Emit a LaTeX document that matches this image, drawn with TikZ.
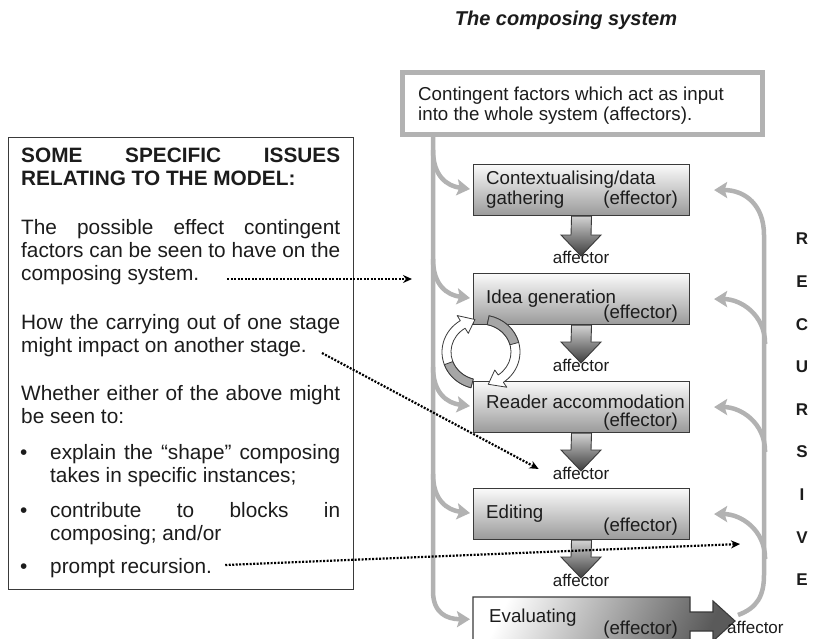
\documentclass[tikz,border=0pt]{standalone}
\usepackage{fontspec}
\setmainfont{Liberation Sans}
\usetikzlibrary{arrows.meta,calc}

\definecolor{ink}{HTML}{1C1C1C}
\definecolor{frame}{HTML}{3A3A3A}
\definecolor{feedgray}{HTML}{B2B2B2}
\definecolor{boxtop}{HTML}{FAFAFA}
\definecolor{boxbot}{HTML}{9A9A9A}
\definecolor{arrtop}{HTML}{D2D2D2}
\definecolor{arrbot}{HTML}{3C3C3C}
\definecolor{evalbot}{HTML}{5A5A5A}
\definecolor{bandgray}{HTML}{A6A6A6}

\tikzset{
  stagebox/.style={draw=frame, line width=1.1pt, top color=boxtop, bottom color=boxbot,
    minimum width=216pt, minimum height=51pt, inner sep=0pt, anchor=north west},
  flowarrow/.style={draw=frame, line width=0.9pt, top color=arrtop, bottom color=arrbot},
  feedline/.style={draw=feedgray, line width=4.5pt, -{Stealth[length=13pt,width=16pt,inset=2.5pt]}},
  hint/.style={draw=black, line width=2.2pt, dash pattern=on 2pt off 1.5pt, -{Stealth[length=9pt,width=8pt]}},
  issue/.style={anchor=base west, inner sep=0pt, text=ink, font=\fontsize{20.8pt}{23pt}\selectfont},
  stagetext/.style={anchor=base west, inner sep=0pt, text=ink, font=\fontsize{18.7pt}{20pt}\selectfont},
  efftext/.style={stagetext, anchor=base east},
  afftext/.style={anchor=base, inner sep=0pt, text=ink, font=\fontsize{17pt}{19pt}\selectfont},
  recletter/.style={inner sep=0pt, text=ink, font=\fontsize{17pt}{19pt}\selectfont\bfseries},
  band/.style={fill=white, draw=frame, line width=0.8pt, line join=round},
  bandshade/.style={fill=bandgray, draw=frame, line width=0.8pt, line join=round},
}

\begin{document}
\begin{tikzpicture}[x=1pt, y=-1pt]
\useasboundingbox (0,0) rectangle (814,638);
\clip (0,0) rectangle (814,638);
\fill[white] (0,0) rectangle (814,638);

% ---------- title ----------
\node[text=ink, font=\fontsize{20pt}{24pt}\selectfont\bfseries\itshape] (title) at (566,20) {The composing system};

% ---------- issues panel ----------
\node[draw=frame, line width=1.2pt, minimum width=345pt, minimum height=452pt,
      inner sep=0pt, anchor=north west] (issues) at (8,137) {};

\node[issue] (h1) at (21,162) {\makebox[319pt][s]{\bfseries SOME SPECIFIC ISSUES}};
\node[issue] (h2) at (21,185) {\bfseries RELATING TO THE MODEL:};

\node[issue] (p1a) at (21,234) {\makebox[319pt][s]{The possible effect contingent}};
\node[issue] (p1b) at (21,257) {\makebox[319pt][s]{factors can be seen to have on the}};
\node[issue] (p1c) at (21,280) {composing system.};

\node[issue] (p2a) at (21,329) {\makebox[319pt][s]{How the carrying out of one stage}};
\node[issue] (p2b) at (21,352) {might impact on another stage.};

\node[issue] (p3a) at (21,400) {\makebox[319pt][s]{Whether either of the above might}};
\node[issue] (p3b) at (21,423) {be seen to:};

\node[issue] (d1) at (20,459) {\textbullet};
\node[issue] (b1a) at (50,459) {\makebox[290pt][s]{explain the “shape” composing}};
\node[issue] (b1b) at (50,482) {takes in specific instances;};
\node[issue] (d2) at (20,517) {\textbullet};
\node[issue] (b2a) at (50,517) {\makebox[290pt][s]{contribute to blocks in}};
\node[issue] (b2b) at (50,540) {composing; and/or};
\node[issue] (d3) at (20,573) {\textbullet};
\node[issue] (b3) at (50,573) {prompt recursion.};

% ---------- input box ----------
\node[draw=feedgray, line width=5pt, minimum width=360pt, minimum height=62pt, inner sep=0pt]
  (input) at (582.5,103.5) {};
\node[stagetext] (inputa) at (418,100) {Contingent factors which act as input};
\node[stagetext] (inputb) at (418,120) {into the whole system (affectors).};

% ---------- stage boxes ----------
\node[stagebox] (s1) at (473,164) {};
\node[stagebox] (s2) at (473,273) {};
\node[stagebox] (s3) at (473,381) {};
\node[stagebox] (s4) at (473,488) {};

% evaluating box merged with its outgoing arrow
\path[draw=frame, line width=1.1pt, top color=white, bottom color=evalbot, shading angle=65]
  (473,597) -- (690,597) -- (690,612) -- (713,612) -- (713,601) -- (735,621)
  -- (713,641) -- (713,631) -- (690,631) -- (690,650) -- (473,650) -- cycle;
\node[inner sep=0pt, minimum width=217pt, minimum height=48pt, anchor=north west] (s5) at (473,597) {};

% ---------- downward block arrows ----------
\coordinate (t1) at (581,256);
\coordinate (t2) at (581,363);
\coordinate (t3) at (581,471);
\coordinate (t4) at (581,578);
\foreach \a/\t in {s1/t1, s2/t2, s3/t3, s4/t4}{
  \path[flowarrow] ($(\a.south)+(-10,0)$) -- ($(\t)+(-10,-21)$) -- ($(\t)+(-20,-21)$) -- (\t)
    -- ($(\t)+(20,-21)$) -- ($(\t)+(10,-21)$) -- ($(\a.south)+(10,0)$) -- cycle;
}

% ---------- stage texts ----------
\node[stagetext] (s1a) at (486,184) {Contextualising/data};
\node[stagetext] (s1b) at (486,204) {gathering};
\node[efftext]   (s1c) at (678,204) {(effector)};
\node[stagetext] (s2a) at (486,303) {Idea generation};
\node[efftext]   (s2c) at (678,318) {(effector)};
\node[stagetext] (s3a) at (486,408) {Reader accommodation};
\node[efftext]   (s3c) at (678,426) {(effector)};
\node[stagetext] (s4a) at (486,518) {Editing};
\node[efftext]   (s4c) at (678,531) {(effector)};
\node[stagetext] (s5a) at (489,622) {Evaluating};
\node[efftext]   (s5c) at (678,634) {(effector)};

\node[afftext] (a1) at (581,263) {affector};
\node[afftext] (a2) at (581,371) {affector};
\node[afftext] (a3) at (581,479) {affector};
\node[afftext] (a4) at (581,586) {affector};
\node[afftext, anchor=base west] (a5) at (727,633) {affector};

% ---------- inputs feeding each stage ----------
\coordinate (spine) at (433,136);
\foreach \s in {s1,s2,s3,s4}{
  \draw[feedline] ($(\s.west)+(-40,-40)$) .. controls ($(\s.west)+(-40,-14)$) and ($(\s.west)+(-26,-4)$) .. ($(\s.west)+(-3,-1)$);
}
\draw[feedline] (spine) -- ($(s5.west)+(-40,-30)$) .. controls ($(s5.west)+(-40,-8)$) and ($(s5.west)+(-26,-2)$) .. ($(s5.west)+(-3,-2)$);

% ---------- recursion paths ----------
\coordinate (rstart) at (738,615);
\draw[feedline] (rstart) .. controls (757,608) and (764,596) .. (764,575) -- (764,235)
  .. controls (764,205) and (745,190) .. ($(s1.east)+(24,0)$);
\foreach \s in {s2,s3,s4}{
  \draw[feedline] ($(\s.east)+(75,45)$) .. controls ($(\s.east)+(75,15)$) and ($(\s.east)+(50,0)$) .. ($(\s.east)+(24,0)$);
}

\foreach \l [count=\i] in {R,E,C,U,R,S,I,V,E}{
  \node[recletter] (rec\i) at (802,{239+42.6*(\i-1)}) {\l};
}

% ---------- cycle icon ----------
\begin{scope}[shift={(481,352)}]
  \path[band] (255:39pt and 37pt) arc[start angle=255, end angle=122, x radius=39pt, y radius=37pt]
    -- (122:45pt and 43pt) -- (100:35pt and 33pt) -- (122:24pt and 22pt) -- (122:30pt and 28pt)
    arc[start angle=122, end angle=255, x radius=30pt, y radius=28pt] -- cycle;
  \path[bandshade] (255:39pt and 37pt) arc[start angle=255, end angle=200, x radius=39pt, y radius=37pt]
    -- (200:30pt and 28pt) arc[start angle=200, end angle=255, x radius=30pt, y radius=28pt] -- cycle;
  \path[band] (78:39pt and 37pt) arc[start angle=78, end angle=-55, x radius=39pt, y radius=37pt]
    -- (-55:45pt and 43pt) -- (-78:35pt and 33pt) -- (-55:24pt and 22pt) -- (-55:30pt and 28pt)
    arc[start angle=-55, end angle=78, x radius=30pt, y radius=28pt] -- cycle;
  \path[bandshade] (78:39pt and 37pt) arc[start angle=78, end angle=15, x radius=39pt, y radius=37pt]
    -- (15:30pt and 28pt) arc[start angle=15, end angle=78, x radius=30pt, y radius=28pt] -- cycle;
\end{scope}

% ---------- pointers from the issues ----------
\coordinate (h1end) at (412,279);
\coordinate (h3end) at (740,544);
\draw[hint] ($(p1c.base east)+(28,-1)$) -- (h1end);
\draw[hint] ($(p2b.base east)+(15,1)$) -- ($(a3.west)+(-14,-4)$);
\draw[hint] ($(b3.base east)+(13,-8)$) -- (h3end);

\end{tikzpicture}
\end{document}
